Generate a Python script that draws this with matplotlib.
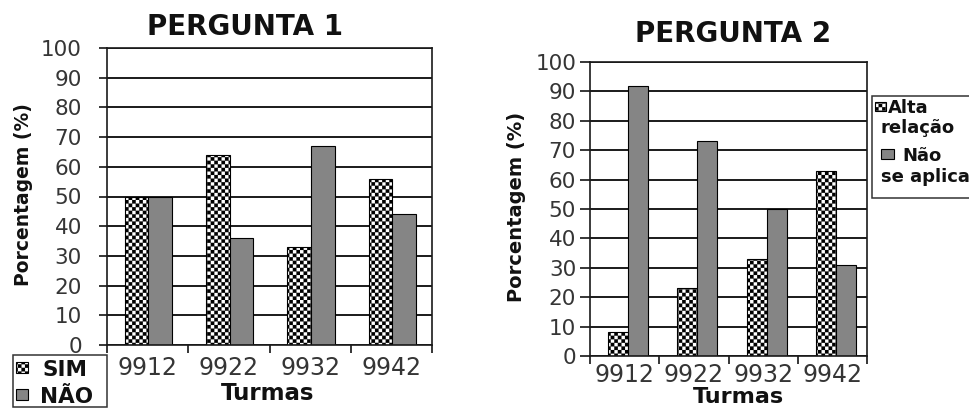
import numpy as np
import matplotlib
matplotlib.use('Agg')
import matplotlib.pyplot as plt
import matplotlib.hatch as mhatch
from matplotlib.path import Path
from matplotlib.patches import Rectangle

# ---------------- data ----------------
turmas = ['9912', '9922', '9932', '9942']
p1_sim = [50, 64, 33, 56]
p1_nao = [50, 36, 67, 44]
p2_alta = [8, 23, 33, 63]
p2_nao = [92, 73, 50, 31]
yticks = list(range(0, 101, 10))
p1_legend = ['SIM', 'NÃO']
p2_legend = [('Alta', 'relação'), ('Não', 'se aplica')]
titles = ['PERGUNTA 1', 'PERGUNTA 2']
ylabel = 'Porcentagem (%)'
xlabel = 'Turmas'


# ---------------- checkerboard hatch ----------------
class CheckerHatch(mhatch.HatchPatternBase):
    def __init__(self, hatch, density):
        self.n = hatch.count('*') * 7
        if self.n % 2:
            self.n += 1
        self.num_vertices = (self.n * self.n // 2) * 5 if self.n else 0

    def set_vertices_and_codes(self, vertices, codes):
        n = self.n
        a = 1.0 / n
        sq = np.array([[0, 0], [a, 0], [a, a], [0, a], [0, 0]], float)
        cd = [Path.MOVETO, Path.LINETO, Path.LINETO, Path.LINETO, Path.CLOSEPOLY]
        k = 0
        for i in range(n):
            for j in range(n):
                if (i + j) % 2 == 0:
                    vertices[k:k + 5] = sq + [j * a, i * a]
                    codes[k:k + 5] = cd
                    k += 5


mhatch._hatch_types = [CheckerHatch if t is mhatch.Stars else t
                       for t in mhatch._hatch_types]

plt.rcParams['font.family'] = ['DejaVu Sans']
plt.rcParams['hatch.linewidth'] = 0.1
plt.rcParams['hatch.color'] = 'black'

W, H = 969, 409
fig = plt.figure(figsize=(W / 100, H / 100), dpi=100)
fig.patch.set_facecolor('white')

CHECK = '****'
GRAY = '#858585'
TICKC = '#353535'


def F(x, y):
    return (x / W, 1 - y / H)


def setup_axes(ax, ypad, ylen, xpad):
    ax.set_xlim(-0.5, 3.5)
    ax.set_ylim(0, 100)
    ax.set_yticks(yticks)
    ax.set_xticks(np.arange(len(turmas)))
    ax.set_xticklabels(turmas)
    ax.set_xticks(np.arange(-0.5, 4.0, 1.0), minor=True)
    ax.tick_params(axis='y', which='major', length=ylen, width=1.1,
                   pad=ypad, labelsize=15.5, labelcolor=TICKC, direction='out')
    ax.tick_params(axis='x', which='major', length=0, pad=xpad,
                   labelsize=17, labelcolor=TICKC)
    ax.tick_params(axis='x', which='minor', length=6, width=1.1, direction='out')
    ax.yaxis.grid(True, color='#1a1a1a', lw=1.4)
    ax.set_axisbelow(True)
    for s in ax.spines.values():
        s.set_color('#1a1a1a')
        s.set_linewidth(1.2)


w = 0.29
x = np.arange(len(turmas))

# ---------------- chart 1 ----------------
ax1 = fig.add_axes([107 / W, 1 - 345 / H, 325 / W, 297 / H])
s1 = 0.01
ax1.bar(x + s1 - w / 2, p1_sim, w, facecolor='white', edgecolor='black',
        lw=0.8, hatch=CHECK)
ax1.bar(x + s1 + w / 2, p1_nao, w, facecolor=GRAY, edgecolor='black', lw=0.8)
setup_axes(ax1, ypad=12, ylen=6, xpad=8)

# ---------------- chart 2 ----------------
ax2 = fig.add_axes([590 / W, 1 - 356 / H, 277 / W, 294 / H])
s2 = 0.05
ax2.bar(x + s2 - w / 2, p2_alta, w, facecolor='white', edgecolor='black',
        lw=0.8, hatch=CHECK)
ax2.bar(x + s2 + w / 2, p2_nao, w, facecolor=GRAY, edgecolor='black', lw=0.8)
setup_axes(ax2, ypad=3, ylen=7, xpad=5)

# ---------------- titles & labels ----------------
fig.text(*F(245, 35), titles[0], ha='center', va='baseline',
         fontsize=20, fontweight='bold', color='#111111')
fig.text(*F(733, 42), titles[1], ha='center', va='baseline',
         fontsize=20, fontweight='bold', color='#111111')
fig.text(*F(24, 195), ylabel, rotation=90, ha='center', va='center',
         fontsize=13.5, fontweight='bold', color='#111111')
fig.text(*F(516, 207), ylabel, rotation=90, ha='center', va='center',
         fontsize=14, fontweight='bold', color='#111111')
fig.text(*F(268, 400), xlabel, ha='center', va='baseline',
         fontsize=16.5, fontweight='bold', color='#111111')
fig.text(*F(738, 403), xlabel, ha='center', va='baseline',
         fontsize=16, fontweight='bold', color='#111111')


# ---------------- legends (drawn by hand) ----------------
def rect_px(x0, y0, x1, y1, **kw):
    r = Rectangle(F(x0, y1), (x1 - x0) / W, (y1 - y0) / H,
                  transform=fig.transFigure, **kw)
    fig.add_artist(r)
    return r


# legend 1
rect_px(13, 355, 107, 407, facecolor='white', edgecolor='#333333', lw=1.1)
rect_px(16, 362, 28, 373, facecolor='white', edgecolor='black', lw=0.8, hatch=CHECK)
rect_px(16, 389, 28, 400, facecolor=GRAY, edgecolor='black', lw=0.8)
fig.text(*F(42, 376), p1_legend[0], ha='left', va='baseline',
         fontsize=15.5, fontweight='bold', color='#111111')
fig.text(*F(40, 403), p1_legend[1], ha='left', va='baseline',
         fontsize=15.5, fontweight='bold', color='#111111')

# legend 2
rect_px(872, 96, 990, 198, facecolor='white', edgecolor='#333333', lw=1.1)
rect_px(875, 102, 886, 111, facecolor='white', edgecolor='black', lw=0.8, hatch=CHECK)
rect_px(881, 149, 894, 159, facecolor=GRAY, edgecolor='black', lw=0.8)
fig.text(*F(888, 113), p2_legend[0][0], ha='left', va='baseline',
         fontsize=13, fontweight='bold', color='#111111')
fig.text(*F(881, 133), p2_legend[0][1], ha='left', va='baseline',
         fontsize=13, fontweight='bold', color='#111111')
fig.text(*F(902, 161), p2_legend[1][0], ha='left', va='baseline',
         fontsize=13, fontweight='bold', color='#111111')
fig.text(*F(881, 182), p2_legend[1][1], ha='left', va='baseline',
         fontsize=13, fontweight='bold', color='#111111')

fig.savefig('out.png', dpi=100, facecolor='white')
